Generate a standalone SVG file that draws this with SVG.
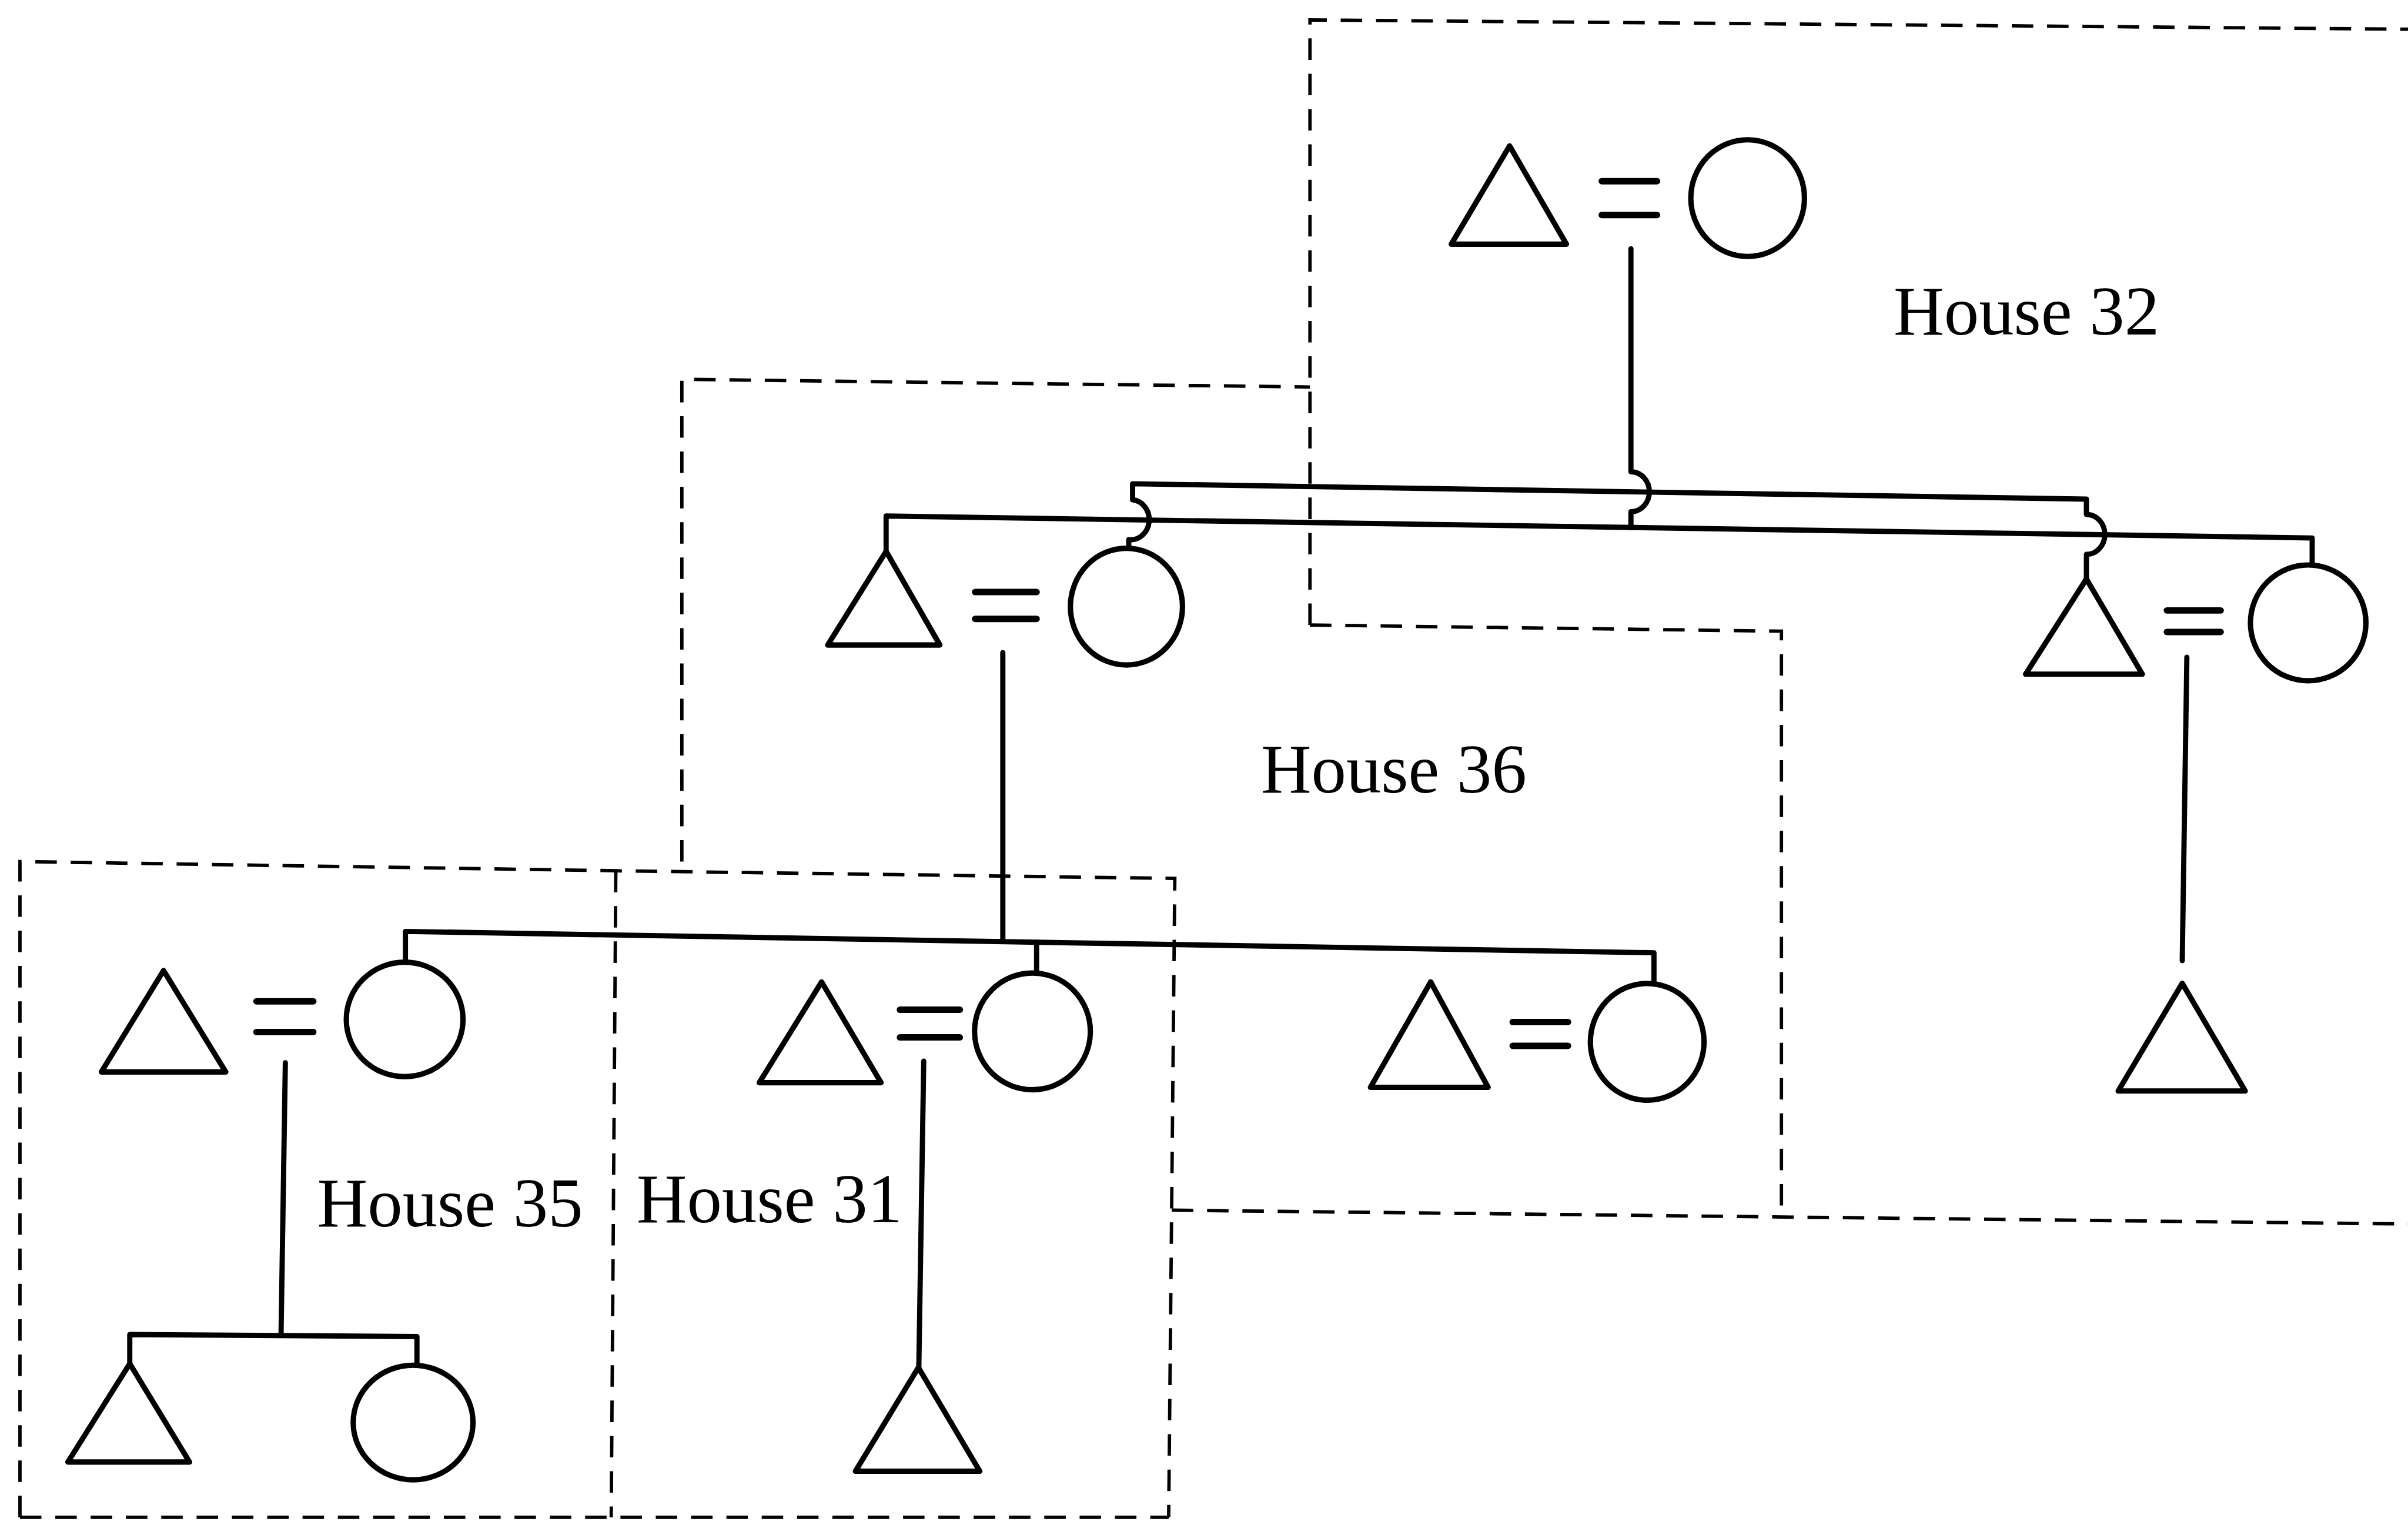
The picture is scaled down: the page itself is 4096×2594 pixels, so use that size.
<svg xmlns="http://www.w3.org/2000/svg" width="4096" height="2594" viewBox="0 0 4096 2594">
  <style>
    .ln { fill: none; stroke: #000; stroke-width: 3.4; stroke-linejoin: round; stroke-linecap: round; }
    .sh { fill: #fff; stroke: #000; stroke-width: 3.5; stroke-linejoin: round; }
    .eq { stroke: #000; stroke-width: 4.2; stroke-linecap: round; }
    .bd { fill: none; stroke: #000; stroke-width: 2.2; stroke-dasharray: 14 9; }
    .lbl { font-family: "Liberation Serif", "Times New Roman", serif; font-size: 45.5px; fill: #000; }
  </style>
  <rect width="4096" height="2594" fill="#fff"/>
  <!-- drawing units: 1568 x 993 layout, scaled up to the canvas -->
  <g transform="scale(2.612245)">
    <!-- house boundaries -->
    <g id="boundaries">
      <path class="bd" d="M853,407 V13 L1568,19"/>
      <path class="bd" d="M853,407 L1160,411 V788"/>
      <path class="bd" d="M763,788 L1568,797"/>
      <path class="bd" d="M444,561 V247 L853,252"/>
      <path class="bd" d="M13,988 V561 L401,567 L765,572 L761,988"/>
      <path class="bd" d="M401,567 L398,988"/>
      <path class="bd" d="M13,988 H761"/>
    </g>

    <!-- descent, sibling and marriage lines -->
    <g id="connectors">
      <!-- marriage signs -->
      <line class="eq" x1="1043" y1="118" x2="1079" y2="118"/>
      <line class="eq" x1="1043" y1="140" x2="1079" y2="140"/>
      <line class="eq" x1="635" y1="385.5" x2="675" y2="385.5"/>
      <line class="eq" x1="635" y1="403" x2="675" y2="403"/>
      <line class="eq" x1="1411" y1="397.5" x2="1446" y2="397.5"/>
      <line class="eq" x1="1411" y1="411.5" x2="1446" y2="411.5"/>
      <line class="eq" x1="167" y1="652" x2="204" y2="652"/>
      <line class="eq" x1="167" y1="672" x2="204" y2="672"/>
      <line class="eq" x1="586" y1="657.5" x2="625" y2="657.5"/>
      <line class="eq" x1="586" y1="675.5" x2="625" y2="675.5"/>
      <line class="eq" x1="985" y1="665.5" x2="1021" y2="665.5"/>
      <line class="eq" x1="985" y1="681" x2="1021" y2="681"/>

      <!-- House 32 couple to its children, hopping the upper sibling line -->
      <path class="ln" d="M1062,162 V307.2 A12 13 0 0 1 1062,333.2 V343.5"/>
      <!-- upper sibling line (hops the lower one at both ends) -->
      <path class="ln" d="M735,357 V351.4 A12 13 0 0 0 737.5,325.4 V315 L1358.6,325 V335 A12 13 0 0 1 1358.6,361 V377"/>
      <!-- lower sibling line -->
      <path class="ln" d="M577,359 V336 L1505.6,350.3 V368"/>
      <!-- House 36 couple to its children -->
      <path class="ln" d="M653,425 V613"/>
      <path class="ln" d="M264,626.5 V606.5 L1077,620.4 V641"/>
      <path class="ln" d="M675,613.5 V634"/>
      <!-- House 35 couple to its children -->
      <path class="ln" d="M185.8,692 L183,869"/>
      <path class="ln" d="M84.5,888 V869 L271.5,870.3 V889"/>
      <!-- House 31 couple to its son -->
      <path class="ln" d="M601.5,691 L598.3,890.5"/>
      <!-- right-hand couple to its son -->
      <path class="ln" d="M1424,428 L1421,625.5"/>
    </g>

    <!-- people -->
    <g id="h32-man"><polygon class="sh" points="983,95 1020,159 945,159"/></g>
    <g id="h32-woman"><ellipse class="sh" cx="1138" cy="129" rx="37" ry="38"/></g>

    <g id="h36-man"><polygon class="sh" points="577,359 612,420 539,420"/></g>
    <g id="h36-woman"><ellipse class="sh" cx="733.5" cy="395" rx="36.5" ry="38"/></g>

    <g id="right-man"><polygon class="sh" points="1358.6,377 1395,439 1319,439"/></g>
    <g id="right-woman"><ellipse class="sh" cx="1503" cy="405.6" rx="37.6" ry="37.7"/></g>
    <g id="right-son"><polygon class="sh" points="1421,640.3 1462,710.4 1379.3,710.4"/></g>

    <g id="h35-man"><polygon class="sh" points="106.5,632 147,698 66,698"/></g>
    <g id="h35-woman"><ellipse class="sh" cx="263.5" cy="663.8" rx="38" ry="37.3"/></g>
    <g id="h35-son"><polygon class="sh" points="84.5,888 123.4,952 44.2,952"/></g>
    <g id="h35-daughter"><ellipse class="sh" cx="269" cy="926.3" rx="39" ry="37.3"/></g>

    <g id="h31-man"><polygon class="sh" points="535,639.4 573.7,705 494.4,705"/></g>
    <g id="h31-woman"><ellipse class="sh" cx="672.3" cy="671.6" rx="37.7" ry="38"/></g>
    <g id="h31-son"><polygon class="sh" points="598,890.5 638,958 557,958"/></g>

    <g id="mid-man"><polygon class="sh" points="931.6,639.4 969,708 892.4,708"/></g>
    <g id="mid-woman"><ellipse class="sh" cx="1072.6" cy="678.4" rx="37" ry="38"/></g>

    <!-- house labels -->
    <g id="label-h32"><text class="lbl" x="1233" y="218">House 32</text></g>
    <g id="label-h36"><text class="lbl" x="821" y="516">House 36</text></g>
    <g id="label-h35"><text class="lbl" x="206.5" y="798.5">House 35</text></g>
    <g id="label-h31"><text class="lbl" x="414.5" y="796">House 31</text></g>
  </g>
</svg>
